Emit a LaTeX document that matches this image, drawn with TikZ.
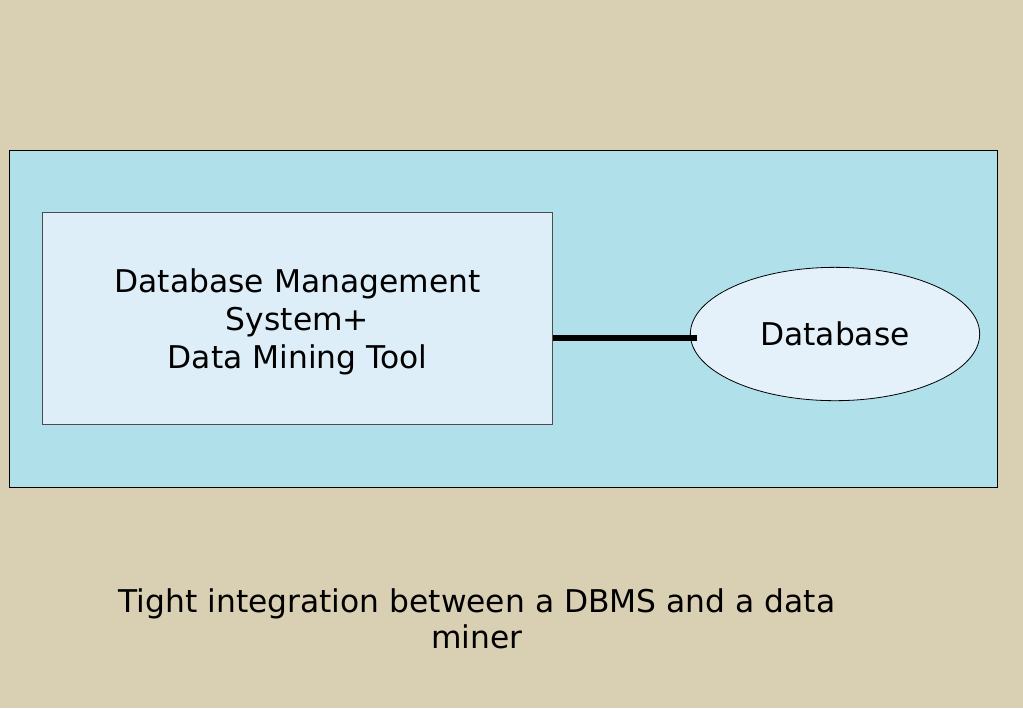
\documentclass[tikz,border=0pt]{standalone}
\usepackage{fontspec}
\setmainfont{DejaVu Sans}
\usepackage{tikz}
\usetikzlibrary{
  positioning,
  shapes.geometric
}
\definecolor{canvasbeige}{RGB}{217,207,178}
\definecolor{dropblue}{RGB}{176,224,234}
\definecolor{boxblue}{RGB}{222,238,248}
\definecolor{ovalblue}{RGB}{228,240,250}

\begin{document}
\begin{tikzpicture}[x=0.75pt,y=-0.75pt,
    txt/.style={font=\fontsize{23.5}{28.5}\selectfont,align=center,text=black},
    sysbox/.style={draw=black!70,fill=boxblue,line width=0.6pt,minimum width=383pt,minimum height=159pt,inner sep=0pt},
    store/.style={draw=black,fill=ovalblue,ellipse,line width=0.6pt,minimum width=217pt,minimum height=100pt,inner sep=0pt}]
  \fill[canvasbeige] (0,0) rectangle (1023,708);
  \useasboundingbox (0,0) rectangle (1023,708);
  \draw[fill=dropblue,line width=0.6pt] (9,150) rectangle (997,487);

  \node[sysbox,txt,text depth=0pt] (dbms) at (297.5,318) {};
  \node[txt] (dbmslabel) at (297.5,322) {Database Management\\System+\\Data Mining Tool};
  \node[store,txt] (db) at (835,334) {Database};
  \coordinate (joint) at ([xshift=5pt,yshift=-3pt]db.west);
  \draw[line width=4.5pt] (dbms.east |- joint) -- (joint);

  \node[txt,font=\fontsize{23.5}{27}\selectfont] (caption) at (477,619) {Tight integration between a DBMS and a data\\miner};
\end{tikzpicture}
\end{document}
